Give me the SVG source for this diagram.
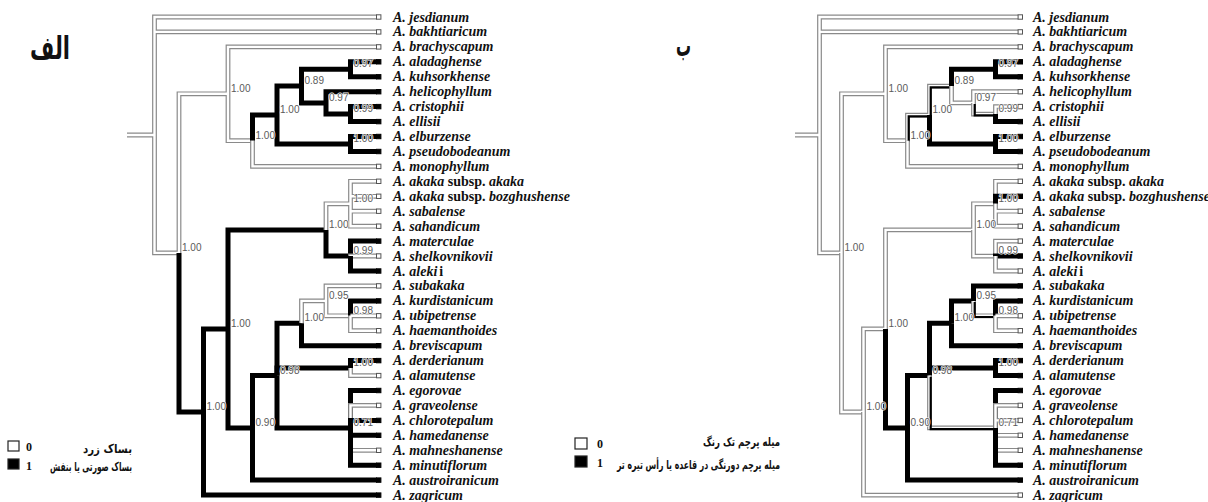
<svg xmlns="http://www.w3.org/2000/svg" width="1208" height="502" viewBox="0 0 1208 502">
<style>
.g0{fill:none;stroke:#8a8a8a;stroke-width:4.8}
.w0{fill:none;stroke:#fff;stroke-width:2.4}
.b1{fill:none;stroke:#000;stroke-width:5}
.e2{fill:none;stroke:#000;stroke-width:2.2}
.o{fill:#fff;stroke:#555;stroke-width:1}
.f{fill:#000;stroke:#000;stroke-width:1}
.tx{font-family:"Liberation Serif","Times New Roman",serif;font-size:14px;font-weight:bold;font-style:italic;fill:#111}
.up{font-style:normal}
.nl{font-family:"Liberation Sans",Arial,sans-serif;font-size:10px;fill:#5a5a5a;stroke:#fff;stroke-width:1.2;paint-order:stroke}
.fa{font-family:"DejaVu Sans",sans-serif;font-weight:bold;fill:#111}
.lg{font-family:"Liberation Serif",serif;font-weight:bold;font-size:12px;fill:#111}
.lb{stroke:#222;stroke-width:1.2}
</style>
<g id="connectors-left">
<path class="g0" d="M127 135H154.5M154.5 135V17H377M154.5 135V31.9H377M154.5 135V252.9H179M179 252.9V93.8H228M228 93.8V46.9H377M228 93.8V140.7H252.5"/>
<path class="w0" d="M127 135H154.5M154.5 135V17H377M154.5 135V31.9H377M154.5 135V252.9H179M179 252.9V93.8H228M228 93.8V46.9H377M228 93.8V140.7H252.5"/>
<path class="b1" d="M252.5 140.7V115.1H277M277 115.1V86.1H301.5M301.5 86.1V69.3H350.5M350.5 69.3V61.8H377M350.5 69.3V76.8H377M301.5 86.1V102.9H326M326 102.9V91.7H377M326 102.9V114.1H350.5M350.5 114.1V106.6H377M350.5 114.1V121.6H377M277 115.1V144H350.5M350.5 144V136.5H377M350.5 144V151.5H377"/>
<path class="g0" d="M252.5 140.7V166.4H377"/><path class="w0" d="M252.5 140.7V166.4H377"/>
<path class="b1" d="M179 252.9V412H203.5M203.5 412V328.9H228M228 328.9V229.9H326"/>
<path class="g0" d="M326 229.9V203.8H350.5M350.5 203.8V181.3H377M350.5 203.8V196.3H377M350.5 203.8V211.2H377M350.5 203.8V226.2H377"/>
<path class="w0" d="M326 229.9V203.8H350.5M350.5 203.8V181.3H377M350.5 203.8V196.3H377M350.5 203.8V211.2H377M350.5 203.8V226.2H377"/>
<path class="b1" d="M326 229.9V256.1H350.5M350.5 256.1V241.1H377"/>
<path class="g0" d="M350.5 256.1V256H377"/><path class="w0" d="M350.5 256.1V256H377"/>
<path class="b1" d="M350.5 256.1V271H377M228 328.9V427.9H252.5M252.5 427.9V375.6H277M277 375.6V323.3H301.5"/>
<path class="g0" d="M301.5 323.3V300.9H326M326 300.9V285.9H377M326 300.9V315.8H350.5"/>
<path class="w0" d="M301.5 323.3V300.9H326M326 300.9V285.9H377M326 300.9V315.8H350.5"/>
<path class="b1" d="M350.5 315.8V300.9H377"/>
<path class="g0" d="M350.5 315.8H377M350.5 315.8V330.7H377"/><path class="w0" d="M350.5 315.8H377M350.5 315.8V330.7H377"/>
<path class="b1" d="M301.5 323.3V345.7H377M277 375.6V368.1H350.5M350.5 368.1V360.6H377"/>
<path class="g0" d="M350.5 368.1V375.6H377"/><path class="w0" d="M350.5 368.1V375.6H377"/>
<path class="b1" d="M277 375.6V427.9H350.5M350.5 427.9V390.5H377"/>
<path class="g0" d="M350.5 427.9V405.4H377"/><path class="w0" d="M350.5 427.9V405.4H377"/>
<path class="b1" d="M350.5 427.9V420.4H377M350.5 427.9V435.3H377"/>
<path class="g0" d="M350.5 427.9V450.3H377"/><path class="w0" d="M350.5 427.9V450.3H377"/>
<path class="b1" d="M350.5 427.9V465.2H377M252.5 427.9V480.1H377M203.5 412V495.1H377"/>
</g>
<g id="connectors-right">
<path class="g0" d="M795 135H819.5M819.5 135V17H1018.5M819.5 135V31.9H1018.5M819.5 135V252.9H841.5M841.5 252.9V93.8H885.5M885.5 93.8V46.9H1018.5M885.5 93.8V140.7H907.5"/>
<path class="w0" d="M795 135H819.5M819.5 135V17H1018.5M819.5 135V31.9H1018.5M819.5 135V252.9H841.5M841.5 252.9V93.8H885.5M885.5 93.8V46.9H1018.5M885.5 93.8V140.7H907.5"/>
<path class="g0" d="M907.5 140.7V115.1H929.5M929.5 115.1V86.1H951.5"/>
<path class="w0" d="M907.5 140.7V115.1H929.5M929.5 115.1V86.1H951.5"/>
<path class="e2" transform="translate(1.2,1.2)" d="M907.5 140.7V115.1H929.5M929.5 115.1V86.1H951.5"/>
<path class="b1" d="M951.5 86.1V69.3H995.5M995.5 69.3V61.8H1018.5M995.5 69.3V76.8H1018.5"/>
<path class="g0" d="M951.5 86.1V102.9H973.5M973.5 102.9V91.7H1018.5"/>
<path class="w0" d="M951.5 86.1V102.9H973.5M973.5 102.9V91.7H1018.5"/>
<path class="g0" d="M973.5 102.9V114.1H995.5"/><path class="w0" d="M973.5 102.9V114.1H995.5"/>
<path class="e2" transform="translate(1.2,1.2)" d="M973.5 102.9V114.1H995.5"/>
<path class="g0" d="M995.5 114.1V106.6H1018.5"/><path class="w0" d="M995.5 114.1V106.6H1018.5"/>
<path class="b1" d="M995.5 114.1V121.6H1018.5M929.5 115.1V144H995.5M995.5 144V136.5H1018.5M995.5 144V151.5H1018.5"/>
<path class="g0" d="M907.5 140.7V166.4H1018.5M841.5 252.9V412H863.5M863.5 412V328.9H885.5M885.5 328.9V229.9H973.5M973.5 229.9V203.8H995.5M995.5 203.8V181.3H1018.5"/>
<path class="w0" d="M907.5 140.7V166.4H1018.5M841.5 252.9V412H863.5M863.5 412V328.9H885.5M885.5 328.9V229.9H973.5M973.5 229.9V203.8H995.5M995.5 203.8V181.3H1018.5"/>
<path class="b1" d="M995.5 203.8V196.3H1018.5"/>
<path class="g0" d="M995.5 203.8V211.2H1018.5M995.5 203.8V226.2H1018.5M973.5 229.9V256.1H995.5M995.5 256.1V241.1H1018.5"/>
<path class="w0" d="M995.5 203.8V211.2H1018.5M995.5 203.8V226.2H1018.5M973.5 229.9V256.1H995.5M995.5 256.1V241.1H1018.5"/>
<path class="b1" d="M995.5 256.1V256H1018.5"/>
<path class="g0" d="M995.5 256.1V271H1018.5"/><path class="w0" d="M995.5 256.1V271H1018.5"/>
<path class="b1" d="M885.5 328.9V427.9H907.5M907.5 427.9V375.6H929.5M929.5 375.6V323.3H951.5M951.5 323.3V300.9H973.5M973.5 300.9V285.9H1018.5"/>
<path class="g0" d="M973.5 300.9V315.8H995.5"/><path class="w0" d="M973.5 300.9V315.8H995.5"/>
<path class="e2" transform="translate(1.2,1.2)" d="M973.5 300.9V315.8H995.5"/>
<path class="b1" d="M995.5 315.8V300.9H1018.5"/>
<path class="g0" d="M995.5 315.8H1018.5M995.5 315.8V330.7H1018.5"/><path class="w0" d="M995.5 315.8H1018.5M995.5 315.8V330.7H1018.5"/>
<path class="b1" d="M951.5 323.3V345.7H1018.5M929.5 375.6V368.1H995.5M995.5 368.1V360.6H1018.5M995.5 368.1V375.6H1018.5"/>
<path class="g0" d="M929.5 375.6V427.9H995.5"/><path class="w0" d="M929.5 375.6V427.9H995.5"/>
<path class="e2" transform="translate(1.2,1.2)" d="M929.5 375.6V427.9H995.5"/>
<path class="b1" d="M995.5 427.9V390.5H1018.5"/>
<path class="g0" d="M995.5 427.9V405.4H1018.5M995.5 427.9V420.4H1018.5M995.5 427.9V435.3H1018.5M995.5 427.9V450.3H1018.5"/>
<path class="w0" d="M995.5 427.9V405.4H1018.5M995.5 427.9V420.4H1018.5M995.5 427.9V435.3H1018.5M995.5 427.9V450.3H1018.5"/>
<path class="b1" d="M995.5 427.9V465.2H1018.5M907.5 427.9V480.1H1018.5"/>
<path class="g0" d="M863.5 412V495.1H1018.5"/><path class="w0" d="M863.5 412V495.1H1018.5"/>
</g>
<g id="left-tips">
<g id="L-jesdianum"><rect class="o" x="376.5" y="14.8" width="4.4" height="4.4"/><text class="tx" x="393" y="21.5">A. jesdianum</text></g>
<g id="L-bakhtiaricum"><rect class="o" x="376.5" y="29.7" width="4.4" height="4.4"/><text class="tx" x="393" y="36.4">A. bakhtiaricum</text></g>
<g id="L-brachyscapum"><rect class="o" x="376.5" y="44.7" width="4.4" height="4.4"/><text class="tx" x="393" y="51.4">A. brachyscapum</text></g>
<g id="L-aladaghense"><rect class="f" x="376.5" y="59.6" width="4.4" height="4.4"/><text class="tx" x="393" y="66.3">A. aladaghense</text></g>
<g id="L-kuhsorkhense"><rect class="f" x="376.5" y="74.6" width="4.4" height="4.4"/><text class="tx" x="393" y="81.3">A. kuhsorkhense</text></g>
<g id="L-helicophyllum"><rect class="f" x="376.5" y="89.5" width="4.4" height="4.4"/><text class="tx" x="393" y="96.2">A. helicophyllum</text></g>
<g id="L-cristophii"><rect class="f" x="376.5" y="104.4" width="4.4" height="4.4"/><text class="tx" x="393" y="111.1">A. cristophii</text></g>
<g id="L-ellisii"><rect class="f" x="376.5" y="119.4" width="4.4" height="4.4"/><text class="tx" x="393" y="126.1">A. ellisii</text></g>
<g id="L-elburzense"><rect class="f" x="376.5" y="134.3" width="4.4" height="4.4"/><text class="tx" x="393" y="141">A. elburzense</text></g>
<g id="L-pseudobodeanum"><rect class="f" x="376.5" y="149.3" width="4.4" height="4.4"/><text class="tx" x="393" y="156">A. pseudobodeanum</text></g>
<g id="L-monophyllum"><rect class="o" x="376.5" y="164.2" width="4.4" height="4.4"/><text class="tx" x="393" y="170.9">A. monophyllum</text></g>
<g id="L-akaka"><rect class="o" x="376.5" y="179.1" width="4.4" height="4.4"/><text class="tx" x="393" y="185.8">A. akaka <tspan class="up">subsp.</tspan> akaka</text></g>
<g id="L-bozghushense"><rect class="o" x="376.5" y="194.1" width="4.4" height="4.4"/><text class="tx" x="393" y="200.8">A. akaka <tspan class="up">subsp.</tspan> bozghushense</text></g>
<g id="L-sabalense"><rect class="o" x="376.5" y="209" width="4.4" height="4.4"/><text class="tx" x="393" y="215.7">A. sabalense</text></g>
<g id="L-sahandicum"><rect class="o" x="376.5" y="224" width="4.4" height="4.4"/><text class="tx" x="393" y="230.7">A. sahandicum</text></g>
<g id="L-materculae"><rect class="f" x="376.5" y="238.9" width="4.4" height="4.4"/><text class="tx" x="393" y="245.6">A. materculae</text></g>
<g id="L-shelkovnikovii"><rect class="o" x="376.5" y="253.8" width="4.4" height="4.4"/><text class="tx" x="393" y="260.5">A. shelkovnikovii</text></g>
<g id="L-aleki"><rect class="f" x="376.5" y="268.8" width="4.4" height="4.4"/><text class="tx" x="393" y="275.5">A. aleki<tspan class="up" dx="2">i</tspan></text></g>
<g id="L-subakaka"><rect class="o" x="376.5" y="283.7" width="4.4" height="4.4"/><text class="tx" x="393" y="290.4">A. subakaka</text></g>
<g id="L-kurdistanicum"><rect class="f" x="376.5" y="298.7" width="4.4" height="4.4"/><text class="tx" x="393" y="305.4">A. kurdistanicum</text></g>
<g id="L-ubipetrense"><rect class="o" x="376.5" y="313.6" width="4.4" height="4.4"/><text class="tx" x="393" y="320.3">A. ubipetrense</text></g>
<g id="L-haemanthoides"><rect class="o" x="376.5" y="328.5" width="4.4" height="4.4"/><text class="tx" x="393" y="335.2">A. haemanthoides</text></g>
<g id="L-breviscapum"><rect class="f" x="376.5" y="343.5" width="4.4" height="4.4"/><text class="tx" x="393" y="350.2">A. breviscapum</text></g>
<g id="L-derderianum"><rect class="f" x="376.5" y="358.4" width="4.4" height="4.4"/><text class="tx" x="393" y="365.1">A. derderianum</text></g>
<g id="L-alamutense"><rect class="o" x="376.5" y="373.4" width="4.4" height="4.4"/><text class="tx" x="393" y="380.1">A. alamutense</text></g>
<g id="L-egorovae"><rect class="f" x="376.5" y="388.3" width="4.4" height="4.4"/><text class="tx" x="393" y="395">A. egorovae</text></g>
<g id="L-graveolense"><rect class="o" x="376.5" y="403.2" width="4.4" height="4.4"/><text class="tx" x="393" y="409.9">A. graveolense</text></g>
<g id="L-chlorotepalum"><rect class="f" x="376.5" y="418.2" width="4.4" height="4.4"/><text class="tx" x="393" y="424.9">A. chlorotepalum</text></g>
<g id="L-hamedanense"><rect class="f" x="376.5" y="433.1" width="4.4" height="4.4"/><text class="tx" x="393" y="439.8">A. hamedanense</text></g>
<g id="L-mahneshanense"><rect class="o" x="376.5" y="448.1" width="4.4" height="4.4"/><text class="tx" x="393" y="454.8">A. mahneshanense</text></g>
<g id="L-minutiflorum"><rect class="f" x="376.5" y="463" width="4.4" height="4.4"/><text class="tx" x="393" y="469.7">A. minutiflorum</text></g>
<g id="L-austroiranicum"><rect class="f" x="376.5" y="477.9" width="4.4" height="4.4"/><text class="tx" x="393" y="484.6">A. austroiranicum</text></g>
<g id="L-zagricum"><rect class="f" x="376.5" y="492.9" width="4.4" height="4.4"/><text class="tx" x="393" y="499.6">A. zagricum</text></g>
</g>
<g id="right-tips">
<g id="R-jesdianum"><rect class="o" x="1018.1" y="14.8" width="4.4" height="4.4"/><text class="tx" x="1033" y="21.5">A. jesdianum</text></g>
<g id="R-bakhtiaricum"><rect class="o" x="1018.1" y="29.7" width="4.4" height="4.4"/><text class="tx" x="1033" y="36.4">A. bakhtiaricum</text></g>
<g id="R-brachyscapum"><rect class="o" x="1018.1" y="44.7" width="4.4" height="4.4"/><text class="tx" x="1033" y="51.4">A. brachyscapum</text></g>
<g id="R-aladaghense"><rect class="f" x="1018.1" y="59.6" width="4.4" height="4.4"/><text class="tx" x="1033" y="66.3">A. aladaghense</text></g>
<g id="R-kuhsorkhense"><rect class="f" x="1018.1" y="74.6" width="4.4" height="4.4"/><text class="tx" x="1033" y="81.3">A. kuhsorkhense</text></g>
<g id="R-helicophyllum"><rect class="o" x="1018.1" y="89.5" width="4.4" height="4.4"/><text class="tx" x="1033" y="96.2">A. helicophyllum</text></g>
<g id="R-cristophii"><rect class="o" x="1018.1" y="104.4" width="4.4" height="4.4"/><text class="tx" x="1033" y="111.1">A. cristophii</text></g>
<g id="R-ellisii"><rect class="f" x="1018.1" y="119.4" width="4.4" height="4.4"/><text class="tx" x="1033" y="126.1">A. ellisii</text></g>
<g id="R-elburzense"><rect class="f" x="1018.1" y="134.3" width="4.4" height="4.4"/><text class="tx" x="1033" y="141">A. elburzense</text></g>
<g id="R-pseudobodeanum"><rect class="f" x="1018.1" y="149.3" width="4.4" height="4.4"/><text class="tx" x="1033" y="156">A. pseudobodeanum</text></g>
<g id="R-monophyllum"><rect class="o" x="1018.1" y="164.2" width="4.4" height="4.4"/><text class="tx" x="1033" y="170.9">A. monophyllum</text></g>
<g id="R-akaka"><rect class="o" x="1018.1" y="179.1" width="4.4" height="4.4"/><text class="tx" x="1033" y="185.8">A. akaka <tspan class="up">subsp.</tspan> akaka</text></g>
<g id="R-bozghushense"><rect class="f" x="1018.1" y="194.1" width="4.4" height="4.4"/><text class="tx" x="1033" y="200.8">A. akaka <tspan class="up">subsp.</tspan> bozghushense</text></g>
<g id="R-sabalense"><rect class="o" x="1018.1" y="209" width="4.4" height="4.4"/><text class="tx" x="1033" y="215.7">A. sabalense</text></g>
<g id="R-sahandicum"><rect class="o" x="1018.1" y="224" width="4.4" height="4.4"/><text class="tx" x="1033" y="230.7">A. sahandicum</text></g>
<g id="R-materculae"><rect class="o" x="1018.1" y="238.9" width="4.4" height="4.4"/><text class="tx" x="1033" y="245.6">A. materculae</text></g>
<g id="R-shelkovnikovii"><rect class="f" x="1018.1" y="253.8" width="4.4" height="4.4"/><text class="tx" x="1033" y="260.5">A. shelkovnikovii</text></g>
<g id="R-aleki"><rect class="o" x="1018.1" y="268.8" width="4.4" height="4.4"/><text class="tx" x="1033" y="275.5">A. aleki<tspan class="up" dx="2">i</tspan></text></g>
<g id="R-subakaka"><rect class="f" x="1018.1" y="283.7" width="4.4" height="4.4"/><text class="tx" x="1033" y="290.4">A. subakaka</text></g>
<g id="R-kurdistanicum"><rect class="f" x="1018.1" y="298.7" width="4.4" height="4.4"/><text class="tx" x="1033" y="305.4">A. kurdistanicum</text></g>
<g id="R-ubipetrense"><rect class="o" x="1018.1" y="313.6" width="4.4" height="4.4"/><text class="tx" x="1033" y="320.3">A. ubipetrense</text></g>
<g id="R-haemanthoides"><rect class="o" x="1018.1" y="328.5" width="4.4" height="4.4"/><text class="tx" x="1033" y="335.2">A. haemanthoides</text></g>
<g id="R-breviscapum"><rect class="f" x="1018.1" y="343.5" width="4.4" height="4.4"/><text class="tx" x="1033" y="350.2">A. breviscapum</text></g>
<g id="R-derderianum"><rect class="f" x="1018.1" y="358.4" width="4.4" height="4.4"/><text class="tx" x="1033" y="365.1">A. derderianum</text></g>
<g id="R-alamutense"><rect class="f" x="1018.1" y="373.4" width="4.4" height="4.4"/><text class="tx" x="1033" y="380.1">A. alamutense</text></g>
<g id="R-egorovae"><rect class="f" x="1018.1" y="388.3" width="4.4" height="4.4"/><text class="tx" x="1033" y="395">A. egorovae</text></g>
<g id="R-graveolense"><rect class="o" x="1018.1" y="403.2" width="4.4" height="4.4"/><text class="tx" x="1033" y="409.9">A. graveolense</text></g>
<g id="R-chlorotepalum"><rect class="o" x="1018.1" y="418.2" width="4.4" height="4.4"/><text class="tx" x="1033" y="424.9">A. chlorotepalum</text></g>
<g id="R-hamedanense"><rect class="o" x="1018.1" y="433.1" width="4.4" height="4.4"/><text class="tx" x="1033" y="439.8">A. hamedanense</text></g>
<g id="R-mahneshanense"><rect class="o" x="1018.1" y="448.1" width="4.4" height="4.4"/><text class="tx" x="1033" y="454.8">A. mahneshanense</text></g>
<g id="R-minutiflorum"><rect class="f" x="1018.1" y="463" width="4.4" height="4.4"/><text class="tx" x="1033" y="469.7">A. minutiflorum</text></g>
<g id="R-austroiranicum"><rect class="f" x="1018.1" y="477.9" width="4.4" height="4.4"/><text class="tx" x="1033" y="484.6">A. austroiranicum</text></g>
<g id="R-zagricum"><rect class="o" x="1018.1" y="492.9" width="4.4" height="4.4"/><text class="tx" x="1033" y="499.6">A. zagricum</text></g>
</g>
<g id="left-node-labels">
<g id="L-nA"><text class="nl" x="182" y="250.9">1.00</text></g>
<g id="L-nBn"><text class="nl" x="231" y="91.8">1.00</text></g>
<g id="L-nB"><text class="nl" x="255.5" y="138.7">1.00</text></g>
<g id="L-nC"><text class="nl" x="280" y="113.1">1.00</text></g>
<g id="L-nD"><text class="nl" x="304.5" y="84.1">0.89</text></g>
<g id="L-nF"><text class="nl" x="353.5" y="67.3">0.97</text></g>
<g id="L-nG"><text class="nl" x="329" y="100.9">0.97</text></g>
<g id="L-nH"><text class="nl" x="353.5" y="112.1">0.99</text></g>
<g id="L-nE"><text class="nl" x="353.5" y="142">1.00</text></g>
<g id="L-nI"><text class="nl" x="206.5" y="410">1.00</text></g>
<g id="L-nJ"><text class="nl" x="231" y="326.9">1.00</text></g>
<g id="L-nK"><text class="nl" x="329" y="227.9">1.00</text></g>
<g id="L-nL"><text class="nl" x="353.5" y="201.8">1.00</text></g>
<g id="L-nN"><text class="nl" x="353.5" y="254.1">0.99</text></g>
<g id="L-nO"><text class="nl" x="255.5" y="425.9">0.90</text></g>
<g id="L-nP"><text class="nl" x="280" y="373.6">0.98</text></g>
<g id="L-nQ"><text class="nl" x="304.5" y="321.3">1.00</text></g>
<g id="L-nR"><text class="nl" x="329" y="298.9">0.95</text></g>
<g id="L-nS"><text class="nl" x="353.5" y="313.8">0.98</text></g>
<g id="L-nT"><text class="nl" x="353.5" y="366.1">1.00</text></g>
<g id="L-nU"><text class="nl" x="353.5" y="425.9">0.71</text></g>
</g>
<g id="right-node-labels">
<g id="R-nA"><text class="nl" x="844.5" y="250.9">1.00</text></g>
<g id="R-nBn"><text class="nl" x="888.5" y="91.8">1.00</text></g>
<g id="R-nB"><text class="nl" x="910.5" y="138.7">1.00</text></g>
<g id="R-nC"><text class="nl" x="932.5" y="113.1">1.00</text></g>
<g id="R-nD"><text class="nl" x="954.5" y="84.1">0.89</text></g>
<g id="R-nF"><text class="nl" x="998.5" y="67.3">0.97</text></g>
<g id="R-nG"><text class="nl" x="976.5" y="100.9">0.97</text></g>
<g id="R-nH"><text class="nl" x="998.5" y="112.1">0.99</text></g>
<g id="R-nE"><text class="nl" x="998.5" y="142">1.00</text></g>
<g id="R-nI"><text class="nl" x="866.5" y="410">1.00</text></g>
<g id="R-nJ"><text class="nl" x="888.5" y="326.9">1.00</text></g>
<g id="R-nK"><text class="nl" x="976.5" y="227.9">1.00</text></g>
<g id="R-nL"><text class="nl" x="998.5" y="201.8">1.00</text></g>
<g id="R-nN"><text class="nl" x="998.5" y="254.1">0.99</text></g>
<g id="R-nO"><text class="nl" x="910.5" y="425.9">0.90</text></g>
<g id="R-nP"><text class="nl" x="932.5" y="373.6">0.98</text></g>
<g id="R-nQ"><text class="nl" x="954.5" y="321.3">1.00</text></g>
<g id="R-nR"><text class="nl" x="976.5" y="298.9">0.95</text></g>
<g id="R-nS"><text class="nl" x="998.5" y="313.8">0.98</text></g>
<g id="R-nT"><text class="nl" x="998.5" y="366.1">1.00</text></g>
<g id="R-nU"><text class="nl" x="998.5" y="425.9">0.71</text></g>
</g>
<g id="titles">
<text class="fa" x="30" y="59" font-size="32" textLength="40" lengthAdjust="spacingAndGlyphs">الف</text>
<text class="fa" x="676" y="56" font-size="30" textLength="15" lengthAdjust="spacingAndGlyphs">ب</text>
</g>
<g id="legend-left">
<rect class="lb" x="8" y="441" width="11" height="10" fill="#fff"/>
<rect class="lb" x="8" y="459" width="11" height="10" fill="#000"/>
<text class="lg" x="26" y="451">0</text>
<text class="lg" x="26" y="470">1</text>
<text class="fa" x="83" y="453" font-size="12" textLength="49" lengthAdjust="spacingAndGlyphs">بساک زرد</text>
<text class="fa" x="50" y="471" font-size="12" textLength="82" lengthAdjust="spacingAndGlyphs">بساک صورتی یا بنفش</text>
</g>
<g id="legend-right">
<rect class="lb" x="575" y="438" width="12" height="11" fill="#fff"/>
<rect class="lb" x="575" y="456" width="12" height="11" fill="#000"/>
<text class="lg" x="597" y="448">0</text>
<text class="lg" x="597" y="467">1</text>
<text class="fa" x="703" y="446" font-size="12" textLength="77" lengthAdjust="spacingAndGlyphs">میله پرچم تک رنگ</text>
<text class="fa" x="617" y="469" font-size="12" textLength="163" lengthAdjust="spacingAndGlyphs">میله پرچم دورنگی در قاعده یا رأس تیره تر</text>
</g>
</svg>
